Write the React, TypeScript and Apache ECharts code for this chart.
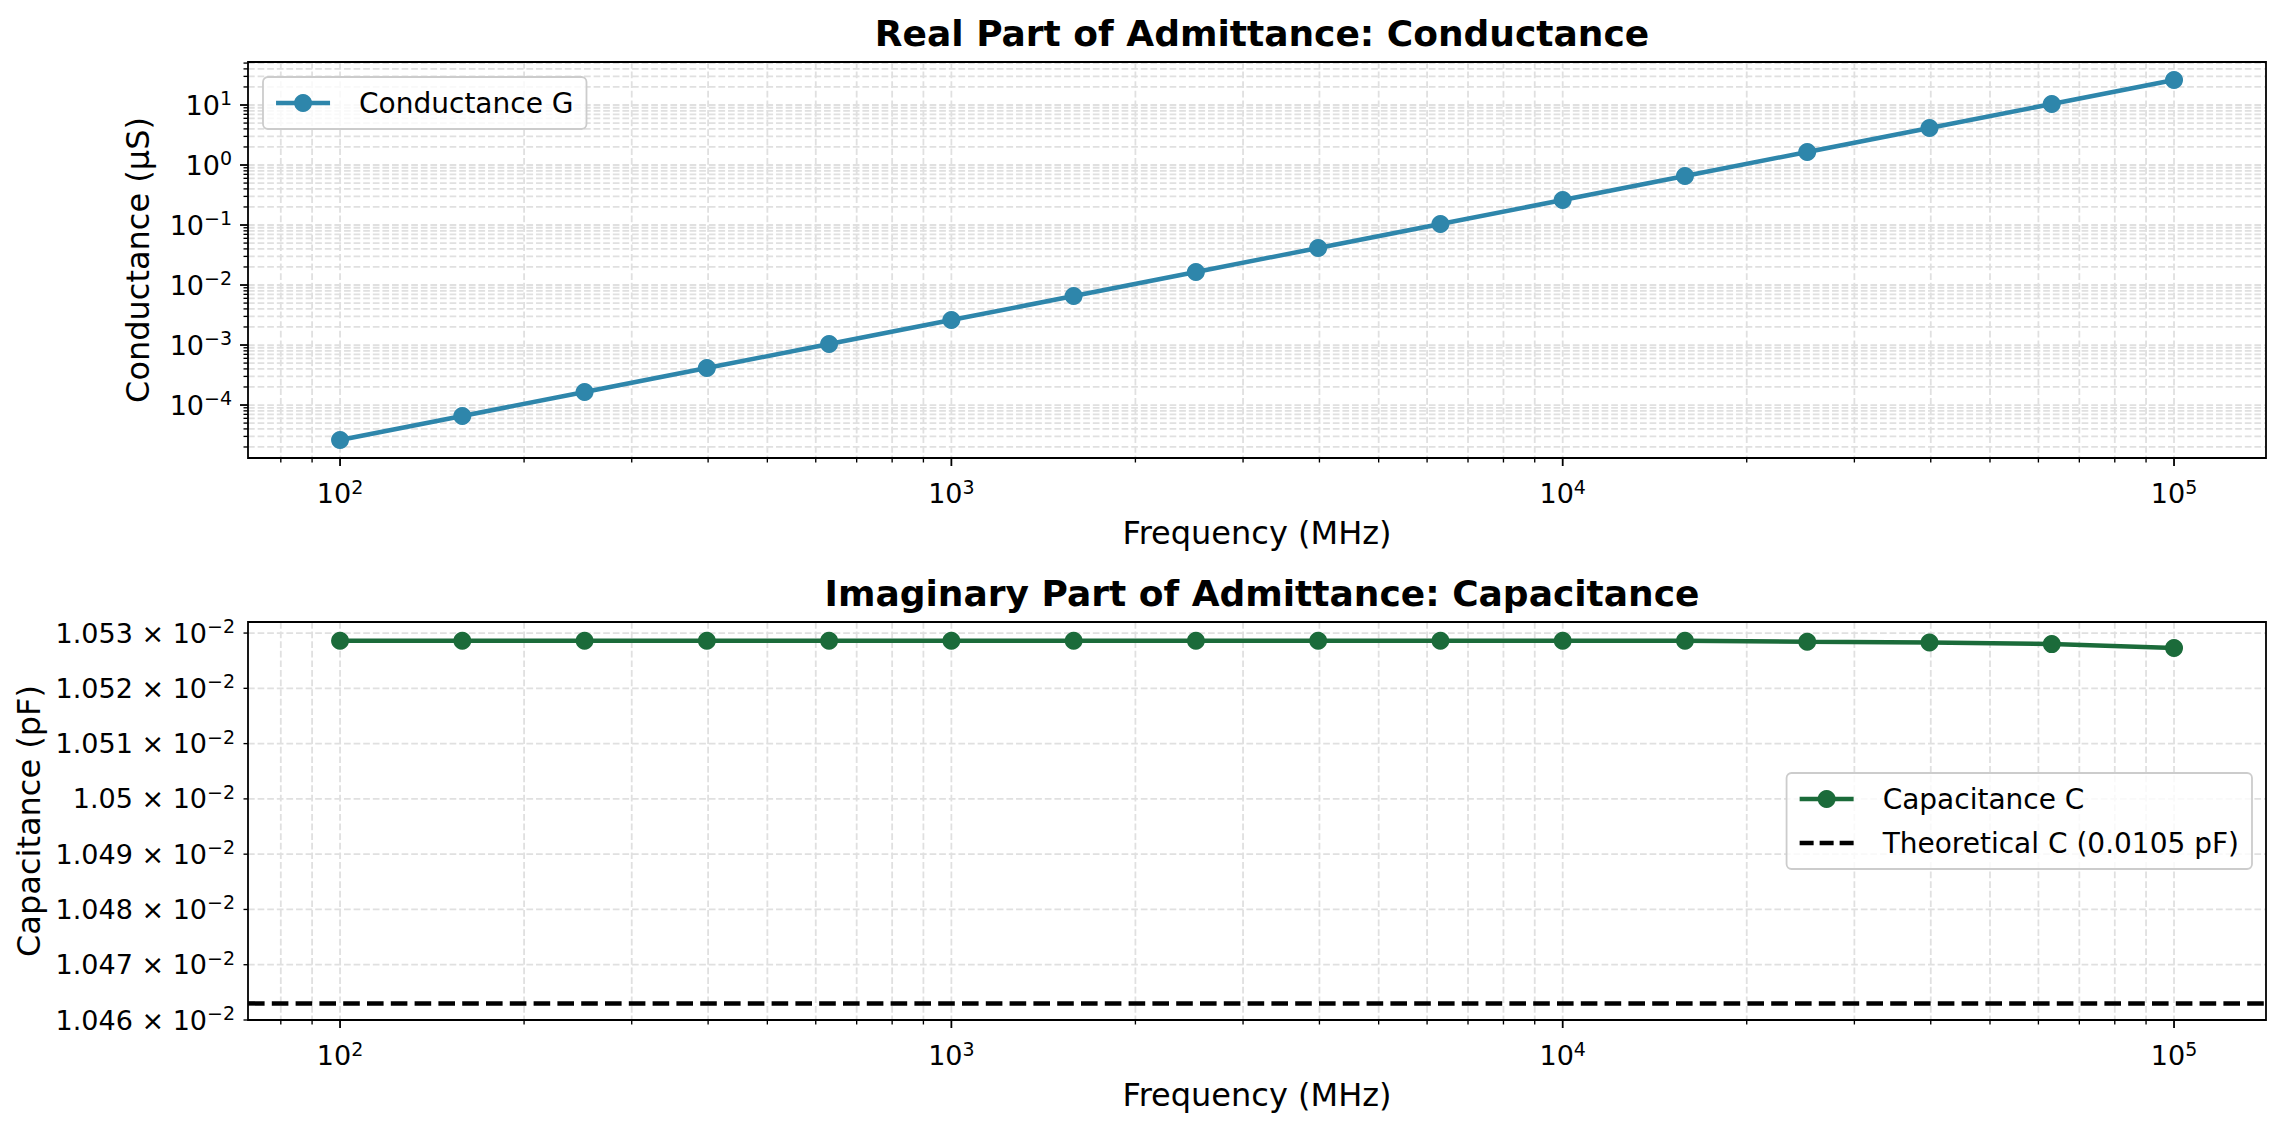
import React, { useEffect, useRef } from 'react';
import * as echarts from 'echarts';

// ---------- data ----------
const frequencies = [100, 158.49, 251.19, 398.11, 630.96, 1000, 1584.9, 2511.9, 3981.1, 6309.6, 10000, 15849, 25119, 39811, 63096, 100000];
const conductance = [2.61e-5, 6.56e-5, 1.65e-4, 4.14e-4, 1.04e-3, 2.61e-3, 6.56e-3, 1.65e-2, 4.14e-2, 1.04e-1, 2.61e-1, 6.56e-1, 1.65, 4.14, 10.4, 26.1];
const capacitance = [0.0105286, 0.0105286, 0.0105286, 0.0105286, 0.0105286, 0.0105286, 0.0105286, 0.0105286, 0.0105286, 0.0105286, 0.0105286, 0.0105286, 0.01052842, 0.0105283, 0.010528, 0.0105273];
const theoreticalC = 0.010463;

const xMajorTicks = [100, 1000, 10000, 100000];
const xMinorTicks = [80, 90, 200, 300, 400, 500, 600, 700, 800, 900, 2000, 3000, 4000, 5000, 6000, 7000, 8000, 9000, 20000, 30000, 40000, 50000, 60000, 70000, 80000, 90000];
const yMajorTicksTop = [1e-4, 1e-3, 1e-2, 1e-1, 1, 10];
const yMinorTicksTop = [
  2e-5, 3e-5, 4e-5, 5e-5, 6e-5, 7e-5, 8e-5, 9e-5,
  2e-4, 3e-4, 4e-4, 5e-4, 6e-4, 7e-4, 8e-4, 9e-4,
  2e-3, 3e-3, 4e-3, 5e-3, 6e-3, 7e-3, 8e-3, 9e-3,
  2e-2, 3e-2, 4e-2, 5e-2, 6e-2, 7e-2, 8e-2, 9e-2,
  0.2, 0.3, 0.4, 0.5, 0.6, 0.7, 0.8, 0.9,
  2, 3, 4, 5, 6, 7, 8, 9,
  20, 30, 40, 50,
];
const yTicksBottom = [0.01046, 0.01047, 0.01048, 0.01049, 0.0105, 0.01051, 0.01052, 0.01053];

const X_MIN = 70.7;
const X_MAX = 141400;
const TOP_Y_MIN = 1.31e-5;
const TOP_Y_MAX = 52.1;
const BOT_Y_MIN = 0.01046;
const BOT_Y_MAX = 0.010532;
const BOT_Y_STEP = 0.00001;

// ---------- style ----------
const FONT = 'DejaVu Sans';
const BLUE = '#2e86ab';
const GREEN = '#1b6b3a';
const GRID_COLOR = '#e0e0e0';
const GRID_DASH = [6.7, 2.9];
const DASH_ICON = 'path://M0,0h14v4.5h-14z M20,0h14v4.5h-14z M40,0h14v4.5h-14z';

const RICH = {
  b: { fontSize: 27, fontFamily: FONT, color: '#000' },
  s: { fontSize: 19, fontFamily: FONT, color: '#000', padding: [0, 0, 14, 0] },
};

const fmtPow = (v: number) => {
  const l = Math.log10(v);
  const e = Math.round(l);
  if (Math.abs(l - e) > 1e-6) return '';
  return '{b|10}{s|' + String(e).replace('-', '−') + '}';
};

const fmtCap = (v: number) => {
  if (v > 0.0105305 || v < 0.0104595) return '';
  let s = (v * 100).toFixed(3);
  s = s.replace(/0+$/, '').replace(/\.$/, '');
  return '{b|' + s + ' × 10}{s|−2}';
};

const xTickRender = (params: any, api: any) => {
  const cs = params.coordSys;
  const p = api.coord([api.value(0), api.value(1)]);
  const major = api.value(2) === 1;
  const x = p[0];
  const yb = cs.y + cs.height;
  return {
    type: 'group',
    children: [
      { type: 'line', shape: { x1: x, y1: cs.y, x2: x, y2: yb }, style: { stroke: GRID_COLOR, lineWidth: 1.8, lineDash: GRID_DASH } },
      { type: 'line', shape: { x1: x, y1: yb, x2: x, y2: yb + (major ? 8 : 4.5) }, style: { stroke: '#000', lineWidth: major ? 1.8 : 1.35 } },
    ],
  };
};

const yTickRender = (params: any, api: any) => {
  const cs = params.coordSys;
  const p = api.coord([api.value(0), api.value(1)]);
  const major = api.value(2) === 1;
  const y = p[1];
  return {
    type: 'group',
    children: [
      { type: 'line', shape: { x1: cs.x, y1: y, x2: cs.x + cs.width, y2: y }, style: { stroke: GRID_COLOR, lineWidth: 1.8, lineDash: GRID_DASH } },
      { type: 'line', shape: { x1: cs.x - (major ? 8 : 4.5), y1: y, x2: cs.x, y2: y }, style: { stroke: '#000', lineWidth: major ? 1.8 : 1.35 } },
    ],
  };
};

const xAxisFor = (gridIndex: number) => ({
  type: 'log',
  logBase: 10,
  gridIndex,
  min: X_MIN,
  max: X_MAX,
  axisLine: { show: false },
  axisTick: { show: false },
  minorTick: { show: false },
  splitLine: { show: false },
  axisLabel: { formatter: fmtPow, rich: RICH, fontSize: 27, color: '#000', margin: 19, fontFamily: FONT },
  name: 'Frequency (MHz)',
  nameLocation: 'middle',
  nameGap: 59,
  nameTextStyle: { fontSize: 32, color: '#000', fontFamily: FONT },
});

const legendCommon = {
  orient: 'vertical',
  itemWidth: 54,
  itemHeight: 22.5,
  itemGap: 14,
  padding: [11, 13, 11, 10.8],
  backgroundColor: 'rgba(255,255,255,0.8)',
  borderColor: '#cccccc',
  borderWidth: 1.8,
  borderRadius: 5,
  lineStyle: { width: 'inherit' },
  textStyle: { fontSize: 28, color: '#000', fontFamily: FONT, padding: [0, 0, 0, 24], lineHeight: 30 },
  z: 20,
};

const App: React.FC = () => {
  const ref = useRef<HTMLDivElement>(null);

  useEffect(() => {
    if (!ref.current) return;
    const chart = echarts.init(ref.current, undefined, { renderer: 'svg' });

    const xTickData0 = [...xMajorTicks.map((v) => [v, 1, 1]), ...xMinorTicks.map((v) => [v, 1, 0])];
    const yTickData0 = [...yMajorTicksTop.map((v) => [1000, v, 1]), ...yMinorTicksTop.map((v) => [1000, v, 0])];
    const xTickData1 = [...xMajorTicks.map((v) => [v, 0.0105, 1]), ...xMinorTicks.map((v) => [v, 0.0105, 0])];
    const yTickData1 = yTicksBottom.map((v) => [1000, v, 0]);

    const option: any = {
      animation: false,
      textStyle: { fontFamily: FONT },
      title: [
        {
          text: 'Real Part of Admittance: Conductance',
          left: 1257,
          top: 10,
          textAlign: 'center',
          textStyle: { fontSize: 36, fontWeight: 'bold', color: '#000', fontFamily: FONT },
        },
        {
          text: 'Imaginary Part of Admittance: Capacitance',
          left: 1257,
          top: 570,
          textAlign: 'center',
          textStyle: { fontSize: 36, fontWeight: 'bold', color: '#000', fontFamily: FONT },
        },
      ],
      legend: [
        { ...legendCommon, data: ['Conductance G'], left: 263, top: 77 },
        {
          ...legendCommon,
          data: ['Capacitance C', { name: 'Theoretical C (0.0105 pF)', icon: DASH_ICON }],
          right: 32,
          top: 773,
        },
      ],
      grid: [
        { left: 248, top: 62, right: 18, height: 396, show: true, borderColor: '#000', borderWidth: 1.8, backgroundColor: 'transparent', z: 10, containLabel: false, outerBoundsMode: 'none' },
        { left: 248, top: 622, right: 18, height: 398, show: true, borderColor: '#000', borderWidth: 1.8, backgroundColor: 'transparent', z: 10, containLabel: false, outerBoundsMode: 'none' },
      ],
      xAxis: [xAxisFor(0), xAxisFor(1)],
      yAxis: [
        {
          type: 'log',
          logBase: 10,
          gridIndex: 0,
          min: TOP_Y_MIN,
          max: TOP_Y_MAX,
          axisLine: { show: false },
          axisTick: { show: false },
          minorTick: { show: false },
          splitLine: { show: false },
          axisLabel: { formatter: fmtPow, rich: RICH, fontSize: 27, color: '#000', margin: 16, fontFamily: FONT },
          name: 'Conductance (μS)',
          nameLocation: 'middle',
          nameGap: 94,
          nameTextStyle: { fontSize: 32, color: '#000', fontFamily: FONT },
        },
        {
          type: 'value',
          gridIndex: 1,
          min: BOT_Y_MIN,
          max: BOT_Y_MAX,
          interval: BOT_Y_STEP,
          axisLine: { show: false },
          axisTick: { show: false },
          splitLine: { show: false },
          axisLabel: { formatter: fmtCap, rich: RICH, fontSize: 27, color: '#000', margin: 13, fontFamily: FONT, showMaxLabel: false },
          name: 'Capacitance (pF)',
          nameLocation: 'middle',
          nameGap: 202,
          nameTextStyle: { fontSize: 32, color: '#000', fontFamily: FONT },
        },
      ],
      series: [
        { type: 'custom', xAxisIndex: 0, yAxisIndex: 0, renderItem: xTickRender, data: xTickData0, silent: true, clip: false, z: 1 },
        { type: 'custom', xAxisIndex: 0, yAxisIndex: 0, renderItem: yTickRender, data: yTickData0, silent: true, clip: false, z: 1 },
        { type: 'custom', xAxisIndex: 1, yAxisIndex: 1, renderItem: xTickRender, data: xTickData1, silent: true, clip: false, z: 1 },
        { type: 'custom', xAxisIndex: 1, yAxisIndex: 1, renderItem: yTickRender, data: yTickData1, silent: true, clip: false, z: 1 },
        {
          name: 'Conductance G',
          type: 'line',
          xAxisIndex: 0,
          yAxisIndex: 0,
          data: frequencies.map((f, i) => [f, conductance[i]]),
          symbol: 'circle',
          symbolSize: 18,
          showSymbol: true,
          lineStyle: { color: BLUE, width: 4.5 },
          itemStyle: { color: BLUE },
          z: 5,
        },
        {
          name: 'Capacitance C',
          type: 'line',
          xAxisIndex: 1,
          yAxisIndex: 1,
          data: frequencies.map((f, i) => [f, capacitance[i]]),
          symbol: 'circle',
          symbolSize: 18,
          showSymbol: true,
          lineStyle: { color: GREEN, width: 4.5 },
          itemStyle: { color: GREEN },
          z: 5,
        },
        {
          // horizontal reference line spanning the whole axis range
          name: 'Theoretical C (0.0105 pF)',
          type: 'line',
          xAxisIndex: 1,
          yAxisIndex: 1,
          data: [[X_MIN, theoreticalC], [X_MAX, theoreticalC]],
          symbol: 'none',
          showSymbol: false,
          silent: true,
          lineStyle: { color: '#000', width: 4.5, type: [16.6, 7.2] },
          itemStyle: { color: '#000' },
          z: 4,
        },
      ],
    };

    chart.setOption(option);
    return () => chart.dispose();
  }, []);

  return <div ref={ref} style={{ position: 'fixed', left: 0, top: 0, width: 2284, height: 1132, background: '#fff' }} />;
};

export default App;
